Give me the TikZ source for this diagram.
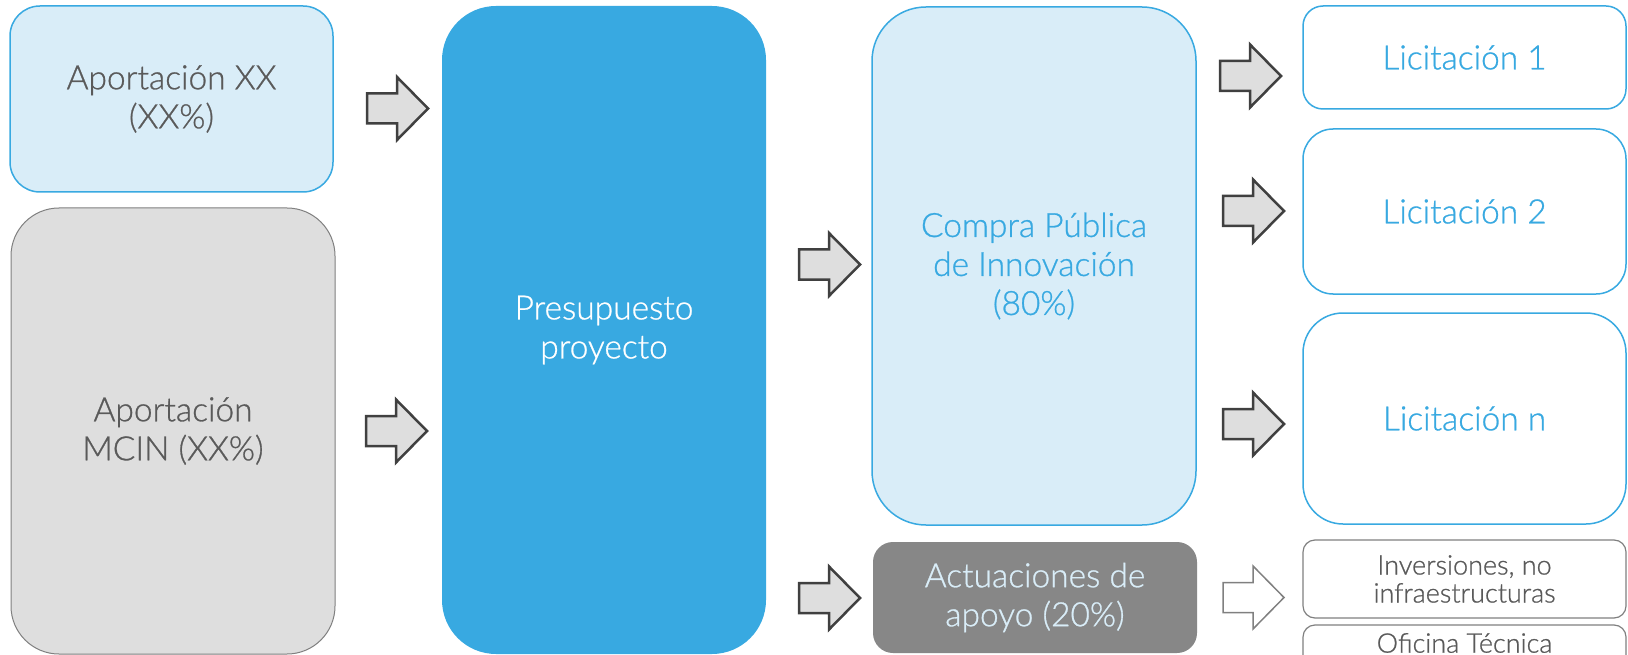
\documentclass[tikz,border=0pt]{standalone}
\usepackage{fontspec}
\setmainfont{Lato Light}[BoldFont={Lato Light},BoldFeatures={FakeBold=0.8}]
\definecolor{lblue}{HTML}{D9EDF8}
\definecolor{mblue}{HTML}{38A9E1}
\definecolor{lgray}{HTML}{DEDEDE}
\definecolor{bgray}{HTML}{808080}
\definecolor{dgray}{HTML}{878787}
\definecolor{tgray}{HTML}{5A5A5A}
\definecolor{agray}{HTML}{404040}
\begin{document}
\begin{tikzpicture}[x=1pt,y=-1pt,
  box/.style={rectangle, inner sep=0pt, align=center, line width=1.5pt,
    font=\fontsize{33.5}{39}\selectfont\bfseries},
  bluebox/.style={box, draw=mblue, fill=lblue},
  grbox/.style={box, draw=bgray, fill=lgray, text=tgray, line width=1pt},
  licbox/.style={box, draw=mblue, fill=white, text=mblue},
  smallbox/.style={box, draw=bgray, fill=white, text=tgray, line width=1.2pt,
    font=\fontsize{27}{28}\selectfont\bfseries},
  blockarrow/.pic={
    \path[pic actions] (0,-15) -- (30,-15) -- (30,-31.5) -- (61,0) -- (30,31.5) -- (30,15) -- (0,15) -- cycle;
  },
  darrow/.style={fill=lgray, draw=agray, line width=2.5pt, line join=miter},
  larrow/.style={fill=white, draw=bgray, line width=1.5pt, line join=miter}
]
\clip (0,0) rectangle (1628,655);
\fill[white] (0,0) rectangle (1628,655);

\node[bluebox, text=tgray, minimum width=323pt, minimum height=186pt, rounded corners=30pt] (ax) at (171.5,99) {Aportación XX\\(XX\%)};
\node[grbox, minimum width=324pt, minimum height=446pt, rounded corners=48pt] (am) at (173,431) {Aportación\\MCIN (XX\%)};
\node[box, fill=mblue, text=white, minimum width=324pt, minimum height=648pt, rounded corners=54pt] (pp) at (604,330) {Presupuesto\\proyecto};
\node[bluebox, text=mblue, minimum width=324pt, minimum height=518pt, rounded corners=54pt] (cp) at (1034,266) {Compra Pública\\de Innovación\\(80\%)};
\node[box, fill=dgray, text=lblue, minimum width=324pt, minimum height=111pt, rounded corners=20pt] (ac) at (1035,597.5) {Actuaciones de\\apoyo (20\%)};
\node[licbox, minimum width=323pt, minimum height=103pt, rounded corners=20pt] (l1) at (1464.5,57.5) {Licitación 1};
\node[licbox, minimum width=323pt, minimum height=165pt, rounded corners=30pt] (l2) at (1464.5,211.5) {Licitación 2};
\node[licbox, minimum width=323pt, minimum height=211pt, rounded corners=40pt] (ln) at (1464.5,418.5) {Licitación n};
\node[smallbox, minimum width=323pt, minimum height=78pt, rounded corners=12pt] (inv) at (1464.5,579) {Inversiones, no\\infraestructuras};
\node[smallbox, minimum width=323pt, minimum height=60pt, rounded corners=12pt] (of) at (1464.5,655) {};
\node[inner sep=0pt, text=tgray, font=\fontsize{27}{28}\selectfont\bfseries] (oft) at (1464.5,643) {Oficina Técnica};

\pic[darrow] (a1) at (367,108.5) {blockarrow};
\pic[darrow] (a2) at (366,431) {blockarrow};
\pic[darrow] (a3) at (799,264.5) {blockarrow};
\pic[darrow] (a4) at (799,598) {blockarrow};
\pic[darrow] (a5) at (1220,76) {blockarrow};
\pic[darrow] (a6) at (1223,211) {blockarrow};
\pic[darrow] (a7) at (1223,424) {blockarrow};
\pic[larrow] (a8) at (1223,597.5) {blockarrow};
\end{tikzpicture}
\end{document}
